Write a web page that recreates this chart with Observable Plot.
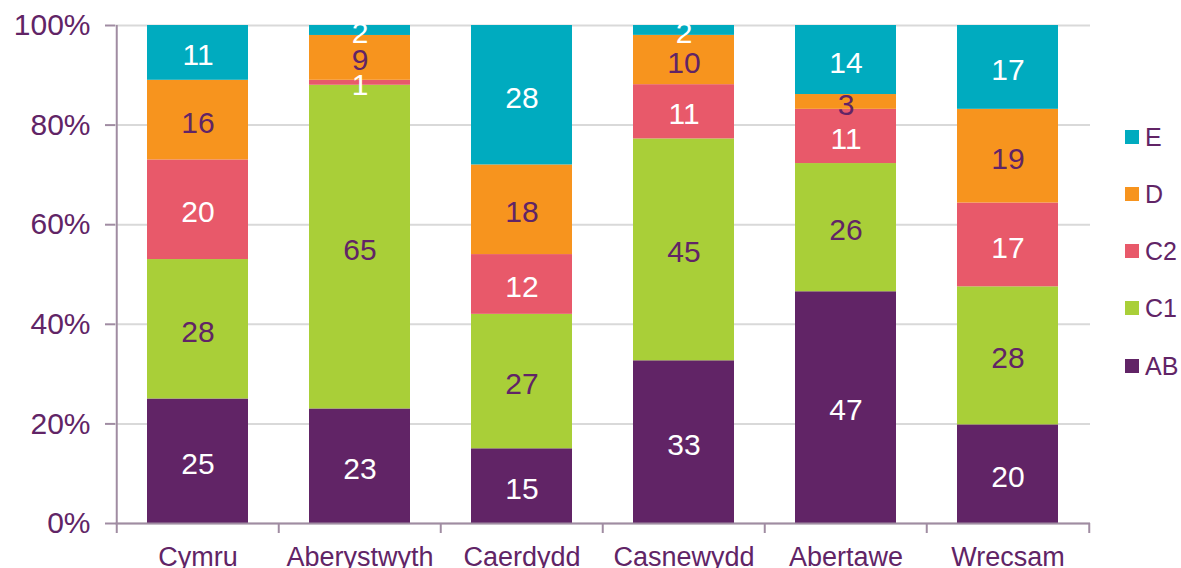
<!DOCTYPE html>
<html>
<head>
<meta charset="utf-8">
<script src="https://cdn.jsdelivr.net/npm/d3@7"></script>
<script src="https://cdn.jsdelivr.net/npm/@observablehq/plot@0.6"></script>
<style>
  html, body { margin: 0; padding: 0; background: #fff; }
  #wrap { position: relative; width: 1181px; height: 568px; font-family: "Liberation Sans", Arial, sans-serif; }
  .leg { position: absolute; left: 1125px; display: flex; align-items: center; color: #612466; font-size: 25px; }
  .sw { width: 14px; height: 14px; margin-right: 6px; }
</style>
</head>
<body>
<div id="wrap"></div>
<script>
const categories = ["Cymru", "Aberystwyth", "Caerdydd", "Casnewydd", "Abertawe", "Wrecsam"];
const series = ["AB", "C1", "C2", "D", "E"];
const AB = [25, 23, 15, 33, 47, 20];
const C1 = [28, 65, 27, 45, 26, 28];
const C2 = [20, 1, 12, 11, 11, 17];
const D  = [16, 9, 18, 10, 3, 19];
const E  = [11, 2, 28, 2, 14, 17];
const colors = ["#612466", "#a9cf38", "#e8596a", "#f7941e", "#00abbf"];
const labelColors = ["#ffffff", "#612466", "#ffffff", "#612466", "#ffffff"];
const yTicks = [0, 0.2, 0.4, 0.6, 0.8, 1];

const values = {AB, C1, C2, D, E};
const data = [];
series.forEach((s, si) => categories.forEach((c, ci) => data.push({cat: c, series: s, value: values[s][ci], si})));

const W = 1181, H = 568, mL = 115, mR = 91, mT = 25, mB = 45;
const step = (W - mL - mR) / categories.length;
const axisColor = "#a08ca2";
const textColor = "#612466";

const plot = Plot.plot({
  width: W, height: H,
  marginLeft: mL, marginRight: mR, marginTop: mT, marginBottom: mB,
  style: {fontFamily: "'Liberation Sans', Arial, sans-serif", background: "#fff", overflow: "visible"},
  x: {domain: categories, paddingInner: 0.378, paddingOuter: 0.189, label: null},
  y: {domain: [0, 1], label: null},
  color: {domain: series, range: colors},
  marks: [
    Plot.gridY(yTicks, {stroke: "#d9d9d9", strokeOpacity: 1, strokeWidth: 2}),
    Plot.barY(data, Plot.stackY({x: "cat", y: "value", z: "series", fill: "series", offset: "normalize"})),
    Plot.ruleY([0], {stroke: axisColor, strokeWidth: 2}),
    Plot.ruleX([categories[0]], {dx: -step / 2, stroke: axisColor, strokeWidth: 2}),
    Plot.axisY({ticks: yTicks, tickFormat: d3.format(".0%"), tickSize: 10, tickPadding: 15, stroke: axisColor, strokeWidth: 2, fill: textColor, fontSize: 30, strokeOpacity: 1}),
    Plot.axisX({tickSize: 10, dx: -step / 2, text: null, stroke: axisColor, strokeWidth: 2, strokeOpacity: 1}),
    Plot.axisX({ticks: [categories[categories.length - 1]], tickSize: 10, dx: step / 2, text: null, stroke: axisColor, strokeWidth: 2, strokeOpacity: 1}),
    Plot.axisX({tickSize: 0, tickPadding: 23, fill: textColor, fontSize: 27}),
    Plot.text(data, Plot.stackY({x: "cat", y: "value", z: "series", offset: "normalize", text: d => String(d.value), fill: d => labelColors[d.si], fontSize: 30, lineAnchor: "middle", dy: 3}))
  ]
});
document.getElementById("wrap").appendChild(plot);

const legendY = {E: 137, D: 194, C2: 251, C1: 308, AB: 366};
series.slice().reverse().forEach(s => {
  const el = document.createElement("div");
  el.className = "leg";
  el.style.top = (legendY[s] - 15) + "px";
  el.style.height = "30px";
  el.innerHTML = `<div class="sw" style="background:${colors[series.indexOf(s)]}"></div><span>${s}</span>`;
  document.getElementById("wrap").appendChild(el);
});
</script>
</body>
</html>
